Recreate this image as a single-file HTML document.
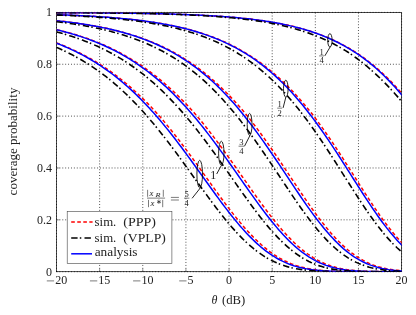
<!DOCTYPE html>
<html><head><meta charset="utf-8"><title>coverage probability</title>
<style>
html,body{margin:0;padding:0;background:#fff;}
body{width:416px;height:315px;position:relative;overflow:hidden;}
svg{position:absolute;left:0;top:0;}
#t{filter:grayscale(1);}
#t text{font-family:"Liberation Serif",serif;fill:#222;}
</style></head><body>
<svg width="416" height="315" viewBox="0 0 416 315">
<defs><clipPath id="c"><rect x="56.5" y="12.4" width="345.10" height="259.30"/></clipPath></defs>
<g stroke="#111" stroke-width="0.75" stroke-dasharray="0.95 1.95" fill="none"><line x1="56.50" y1="271.7" x2="56.50" y2="12.4"/><line x1="99.64" y1="271.7" x2="99.64" y2="12.4"/><line x1="142.78" y1="271.7" x2="142.78" y2="12.4"/><line x1="185.91" y1="271.7" x2="185.91" y2="12.4"/><line x1="229.05" y1="271.7" x2="229.05" y2="12.4"/><line x1="272.19" y1="271.7" x2="272.19" y2="12.4"/><line x1="315.33" y1="271.7" x2="315.33" y2="12.4"/><line x1="358.46" y1="271.7" x2="358.46" y2="12.4"/><line x1="401.60" y1="271.7" x2="401.60" y2="12.4"/><line x1="56.5" y1="271.70" x2="401.6" y2="271.70"/><line x1="56.5" y1="219.84" x2="401.6" y2="219.84"/><line x1="56.5" y1="167.98" x2="401.6" y2="167.98"/><line x1="56.5" y1="116.12" x2="401.6" y2="116.12"/><line x1="56.5" y1="64.26" x2="401.6" y2="64.26"/><line x1="56.5" y1="12.40" x2="401.6" y2="12.40"/></g>
<rect x="56.5" y="12.4" width="345.10" height="259.30" fill="none" stroke="#000" stroke-width="0.7"/>
<g stroke="#333" stroke-width="0.5" fill="none"><line x1="99.64" y1="271.7" x2="99.64" y2="268.7"/><line x1="142.78" y1="271.7" x2="142.78" y2="268.7"/><line x1="185.91" y1="271.7" x2="185.91" y2="268.7"/><line x1="229.05" y1="271.7" x2="229.05" y2="268.7"/><line x1="272.19" y1="271.7" x2="272.19" y2="268.7"/><line x1="315.33" y1="271.7" x2="315.33" y2="268.7"/><line x1="358.46" y1="271.7" x2="358.46" y2="268.7"/><line x1="56.5" y1="219.84" x2="59.5" y2="219.84"/><line x1="56.5" y1="167.98" x2="59.5" y2="167.98"/><line x1="56.5" y1="116.12" x2="59.5" y2="116.12"/><line x1="56.5" y1="64.26" x2="59.5" y2="64.26"/></g>
<g clip-path="url(#c)" fill="none" stroke-width="1.5">
<g stroke="#ff0000" stroke-dasharray="3.62 2.42"><path d="M56.50,12.62 L58.66,12.63 L60.81,12.63 L62.97,12.64 L65.13,12.65 L67.28,12.66 L69.44,12.67 L71.60,12.68 L73.75,12.70 L75.91,12.71 L78.07,12.72 L80.23,12.73 L82.38,12.74 L84.54,12.76 L86.70,12.77 L88.85,12.79 L91.01,12.80 L93.17,12.82 L95.32,12.83 L97.48,12.85 L99.64,12.87 L101.79,12.88 L103.95,12.90 L106.11,12.92 L108.27,12.94 L110.42,12.97 L112.58,12.99 L114.74,13.01 L116.89,13.03 L119.05,13.06 L121.21,13.08 L123.36,13.11 L125.52,13.14 L127.68,13.17 L129.83,13.20 L131.99,13.23 L134.15,13.26 L136.30,13.29 L138.46,13.33 L140.62,13.36 L142.78,13.40 L144.93,13.44 L147.09,13.48 L149.25,13.52 L151.40,13.57 L153.56,13.61 L155.72,13.66 L157.87,13.71 L160.03,13.76 L162.19,13.81 L164.34,13.87 L166.50,13.93 L168.66,13.98 L170.81,14.05 L172.97,14.11 L175.13,14.18 L177.28,14.25 L179.44,14.32 L181.60,14.39 L183.76,14.47 L185.91,14.55 L188.07,14.63 L190.23,14.72 L192.38,14.81 L194.54,14.90 L196.70,15.00 L198.85,15.10 L201.01,15.21 L203.17,15.31 L205.32,15.43 L207.48,15.54 L209.64,15.67 L211.80,15.79 L213.95,15.92 L216.11,16.06 L218.27,16.20 L220.42,16.35 L222.58,16.50 L224.74,16.66 L226.89,16.82 L229.05,16.99 L231.21,17.17 L233.36,17.36 L235.52,17.55 L237.68,17.75 L239.83,17.95 L241.99,18.17 L244.15,18.39 L246.31,18.62 L248.46,18.86 L250.62,19.10 L252.78,19.36 L254.93,19.63 L257.09,19.91 L259.25,20.19 L261.40,20.49 L263.56,20.80 L265.72,21.12 L267.87,21.46 L270.03,21.80 L272.19,22.16 L274.34,22.53 L276.50,22.92 L278.66,23.32 L280.82,23.74 L282.97,24.17 L285.13,24.61 L287.29,25.08 L289.44,25.56 L291.60,26.05 L293.76,26.57 L295.91,27.10 L298.07,27.66 L300.23,28.23 L302.38,28.83 L304.54,29.44 L306.70,30.08 L308.85,30.74 L311.01,31.43 L313.17,32.14 L315.33,32.87 L317.48,33.63 L319.64,34.42 L321.80,35.23 L323.95,36.08 L326.11,36.95 L328.27,37.85 L330.42,38.78 L332.58,39.75 L334.74,40.75 L336.89,41.78 L339.05,42.85 L341.21,43.95 L343.36,45.09 L345.52,46.26 L347.68,47.48 L349.84,48.74 L351.99,50.03 L354.15,51.37 L356.31,52.75 L358.46,54.17 L360.62,55.64 L362.78,57.15 L364.93,58.71 L367.09,60.32 L369.25,61.98 L371.40,63.68 L373.56,65.44 L375.72,67.24 L377.87,69.10 L380.03,71.01 L382.19,72.98 L384.35,75.00 L386.50,77.07 L388.66,79.20 L390.82,81.38 L392.97,83.62 L395.13,85.92 L397.29,88.28 L399.44,90.69 L401.60,93.16 L403.76,95.69 L405.91,98.27"/><path d="M56.50,14.71 L58.66,14.78 L60.81,14.86 L62.97,14.93 L65.13,15.01 L67.28,15.10 L69.44,15.18 L71.60,15.27 L73.75,15.37 L75.91,15.46 L78.07,15.56 L80.23,15.66 L82.38,15.77 L84.54,15.88 L86.70,15.99 L88.85,16.11 L91.01,16.23 L93.17,16.36 L95.32,16.49 L97.48,16.62 L99.64,16.76 L101.79,16.90 L103.95,17.05 L106.11,17.20 L108.27,17.36 L110.42,17.53 L112.58,17.70 L114.74,17.87 L116.89,18.05 L119.05,18.24 L121.21,18.44 L123.36,18.64 L125.52,18.85 L127.68,19.06 L129.83,19.29 L131.99,19.52 L134.15,19.76 L136.30,20.00 L138.46,20.26 L140.62,20.52 L142.78,20.80 L144.93,21.08 L147.09,21.37 L149.25,21.67 L151.40,21.99 L153.56,22.31 L155.72,22.65 L157.87,22.99 L160.03,23.35 L162.19,23.72 L164.34,24.10 L166.50,24.50 L168.66,24.91 L170.81,25.33 L172.97,25.77 L175.13,26.22 L177.28,26.69 L179.44,27.18 L181.60,27.68 L183.76,28.20 L185.91,28.73 L188.07,29.28 L190.23,29.85 L192.38,30.44 L194.54,31.05 L196.70,31.68 L198.85,32.34 L201.01,33.01 L203.17,33.70 L205.32,34.42 L207.48,35.16 L209.64,35.93 L211.80,36.72 L213.95,37.53 L216.11,38.38 L218.27,39.24 L220.42,40.14 L222.58,41.07 L224.74,42.02 L226.89,43.00 L229.05,44.02 L231.21,45.07 L233.36,46.15 L235.52,47.26 L237.68,48.40 L239.83,49.58 L241.99,50.80 L244.15,52.05 L246.31,53.34 L248.46,54.67 L250.62,56.04 L252.78,57.44 L254.93,58.89 L257.09,60.38 L259.25,61.91 L261.40,63.48 L263.56,65.10 L265.72,66.75 L267.87,68.46 L270.03,70.21 L272.19,72.00 L274.34,73.84 L276.50,75.73 L278.66,77.67 L280.82,79.65 L282.97,81.69 L285.13,83.77 L287.29,85.90 L289.44,88.08 L291.60,90.30 L293.76,92.58 L295.91,94.91 L298.07,97.29 L300.23,99.71 L302.38,102.19 L304.54,104.72 L306.70,107.29 L308.85,109.91 L311.01,112.58 L313.17,115.37 L315.33,118.22 L317.48,121.12 L319.64,124.07 L321.80,127.07 L323.95,130.11 L326.11,133.20 L328.27,136.32 L330.42,139.49 L332.58,142.69 L334.74,145.93 L336.89,149.19 L339.05,152.49 L341.21,155.81 L343.36,159.16 L345.52,162.53 L347.68,165.91 L349.84,169.30 L351.99,172.70 L354.15,176.11 L356.31,179.51 L358.46,182.91 L360.62,186.30 L362.78,189.67 L364.93,193.03 L367.09,196.36 L369.25,199.67 L371.40,202.94 L373.56,206.17 L375.72,209.35 L377.87,212.49 L380.03,215.57 L382.19,218.59 L384.35,221.56 L386.50,224.45 L388.66,227.27 L390.82,230.01 L392.97,232.67 L395.13,235.25 L397.29,237.74 L399.44,240.14 L401.60,242.44 L403.76,244.65 L405.91,246.77"/><path d="M56.50,20.66 L58.66,20.89 L60.81,21.13 L62.97,21.37 L65.13,21.62 L67.28,21.88 L69.44,22.14 L71.60,22.42 L73.75,22.70 L75.91,22.99 L78.07,23.30 L80.23,23.61 L82.38,23.93 L84.54,24.26 L86.70,24.60 L88.85,24.96 L91.01,25.32 L93.17,25.70 L95.32,26.09 L97.48,26.49 L99.64,26.90 L101.79,27.33 L103.95,27.77 L106.11,28.22 L108.27,28.69 L110.42,29.17 L112.58,29.67 L114.74,30.18 L116.89,30.71 L119.05,31.26 L121.21,31.82 L123.36,32.40 L125.52,33.00 L127.68,33.62 L129.83,34.26 L131.99,34.92 L134.15,35.60 L136.30,36.29 L138.46,37.01 L140.62,37.76 L142.78,38.52 L144.93,39.31 L147.09,40.12 L149.25,40.96 L151.40,41.83 L153.56,42.71 L155.72,43.63 L157.87,44.57 L160.03,45.54 L162.19,46.54 L164.34,47.57 L166.50,48.63 L168.66,49.72 L170.81,50.84 L172.97,51.99 L175.13,53.18 L177.28,54.40 L179.44,55.66 L181.60,56.94 L183.76,58.27 L185.91,59.63 L188.07,61.03 L190.23,62.46 L192.38,63.94 L194.54,65.45 L196.70,67.01 L198.85,68.60 L201.01,70.23 L203.17,71.91 L205.32,73.62 L207.48,75.38 L209.64,77.19 L211.80,79.03 L213.95,80.92 L216.11,82.85 L218.27,84.83 L220.42,86.85 L222.58,88.92 L224.74,91.03 L226.89,93.19 L229.05,95.39 L231.21,97.64 L233.36,99.93 L235.52,102.26 L237.68,104.64 L239.83,107.07 L241.99,109.54 L244.15,112.05 L246.31,114.68 L248.46,117.38 L250.62,120.12 L252.78,122.90 L254.93,125.73 L257.09,128.61 L259.25,131.52 L261.40,134.47 L263.56,137.46 L265.72,140.49 L267.87,143.55 L270.03,146.64 L272.19,149.76 L274.34,152.90 L276.50,156.07 L278.66,159.26 L280.82,162.47 L282.97,165.70 L285.13,168.93 L287.29,172.17 L289.44,175.42 L291.60,178.66 L293.76,181.91 L295.91,185.14 L298.07,188.37 L300.23,191.57 L302.38,194.76 L304.54,197.93 L306.70,201.06 L308.85,204.16 L311.01,207.22 L313.17,210.24 L315.33,213.22 L317.48,216.14 L319.64,219.01 L321.80,221.82 L323.95,224.57 L326.11,227.25 L328.27,229.86 L330.42,232.39 L332.58,234.85 L334.74,237.23 L336.89,239.53 L339.05,241.74 L341.21,243.86 L343.36,245.90 L345.52,247.85 L347.68,249.71 L349.84,251.47 L351.99,253.15 L354.15,254.73 L356.31,256.23 L358.46,257.63 L360.62,258.95 L362.78,260.18 L364.93,261.32 L367.09,262.38 L369.25,263.37 L371.40,264.27 L373.56,265.10 L375.72,265.86 L377.87,266.56 L380.03,267.18 L382.19,267.75 L384.35,268.26 L386.50,268.72 L388.66,269.13 L390.82,269.49 L392.97,269.81 L395.13,270.09 L397.29,270.34 L399.44,270.55 L401.60,270.74 L403.76,270.90 L405.91,271.03"/><path d="M56.50,29.63 L58.66,30.15 L60.81,30.67 L62.97,31.21 L65.13,31.77 L67.28,32.34 L69.44,32.93 L71.60,33.54 L73.75,34.17 L75.91,34.81 L78.07,35.47 L80.23,36.15 L82.38,36.85 L84.54,37.57 L86.70,38.32 L88.85,39.08 L91.01,39.86 L93.17,40.67 L95.32,41.50 L97.48,42.35 L99.64,43.22 L101.79,44.12 L103.95,45.05 L106.11,46.00 L108.27,46.97 L110.42,47.98 L112.58,49.01 L114.74,50.06 L116.89,51.15 L119.05,52.26 L121.21,53.41 L123.36,54.58 L125.52,55.79 L127.68,57.02 L129.83,58.29 L131.99,59.59 L134.15,60.92 L136.30,62.28 L138.46,63.68 L140.62,65.12 L142.78,66.59 L144.93,68.09 L147.09,69.63 L149.25,71.21 L151.40,72.82 L153.56,74.47 L155.72,76.15 L157.87,77.88 L160.03,79.64 L162.19,81.45 L164.34,83.29 L166.50,85.17 L168.66,87.09 L170.81,89.04 L172.97,91.04 L175.13,93.08 L177.28,95.16 L179.44,97.27 L181.60,99.43 L183.76,101.63 L185.91,103.86 L188.07,106.14 L190.23,108.45 L192.38,110.80 L194.54,113.22 L196.70,115.74 L198.85,118.31 L201.01,120.91 L203.17,123.55 L205.32,126.24 L207.48,128.96 L209.64,131.71 L211.80,134.50 L213.95,137.33 L216.11,140.19 L218.27,143.08 L220.42,145.99 L222.58,148.94 L224.74,151.91 L226.89,154.90 L229.05,157.91 L231.21,160.95 L233.36,163.99 L235.52,167.05 L237.68,170.12 L239.83,173.20 L241.99,176.28 L244.15,179.36 L246.31,182.44 L248.46,185.51 L250.62,188.57 L252.78,191.63 L254.93,194.66 L257.09,197.67 L259.25,200.66 L261.40,203.62 L263.56,206.55 L265.72,209.45 L267.87,212.30 L270.03,215.11 L272.19,217.88 L274.34,220.59 L276.50,223.25 L278.66,225.85 L280.82,228.40 L282.97,230.87 L285.13,233.29 L287.29,235.63 L289.44,237.89 L291.60,240.09 L293.76,242.20 L295.91,244.24 L298.07,246.20 L300.23,248.07 L302.38,249.86 L304.54,251.57 L306.70,253.20 L308.85,254.74 L311.01,256.19 L313.17,257.57 L315.33,258.86 L317.48,260.07 L319.64,261.20 L321.80,262.25 L323.95,263.22 L326.11,264.12 L328.27,264.96 L330.42,265.72 L332.58,266.42 L334.74,267.05 L336.89,267.63 L339.05,268.15 L341.21,268.61 L343.36,269.03 L345.52,269.40 L347.68,269.73 L349.84,270.02 L351.99,270.28 L354.15,270.50 L356.31,270.70 L358.46,270.86 L360.62,271.01 L362.78,271.13 L364.93,271.23 L367.09,271.32 L369.25,271.39 L371.40,271.45 L373.56,271.50 L375.72,271.54 L377.87,271.58 L380.03,271.61 L382.19,271.63 L384.35,271.64 L386.50,271.66 L388.66,271.67 L390.82,271.68 L392.97,271.68 L395.13,271.69 L397.29,271.69 L399.44,271.69 L401.60,271.70 L403.76,271.70 L405.91,271.70"/><path d="M56.50,42.86 L58.66,43.68 L60.81,44.52 L62.97,45.38 L65.13,46.27 L67.28,47.18 L69.44,48.12 L71.60,49.08 L73.75,50.07 L75.91,51.09 L78.07,52.13 L80.23,53.20 L82.38,54.29 L84.54,55.42 L86.70,56.58 L88.85,57.76 L91.01,58.98 L93.17,60.23 L95.32,61.51 L97.48,62.82 L99.64,64.16 L101.79,65.54 L103.95,66.95 L106.11,68.39 L108.27,69.87 L110.42,71.39 L112.58,72.94 L114.74,74.53 L116.89,76.15 L119.05,77.81 L121.21,79.51 L123.36,81.25 L125.52,83.02 L127.68,84.83 L129.83,86.68 L131.99,88.57 L134.15,90.50 L136.30,92.47 L138.46,94.48 L140.62,96.52 L142.78,98.61 L144.93,100.73 L147.09,102.89 L149.25,105.10 L151.40,107.34 L153.56,109.61 L155.72,111.93 L157.87,114.34 L160.03,116.81 L162.19,119.33 L164.34,121.88 L166.50,124.48 L168.66,127.11 L170.81,129.77 L172.97,132.48 L175.13,135.21 L177.28,137.98 L179.44,140.79 L181.60,143.62 L183.76,146.48 L185.91,149.36 L188.07,152.27 L190.23,155.20 L192.38,158.15 L194.54,161.12 L196.70,164.10 L198.85,167.10 L201.01,170.10 L203.17,173.11 L205.32,176.13 L207.48,179.14 L209.64,182.16 L211.80,185.16 L213.95,188.16 L216.11,191.15 L218.27,194.12 L220.42,197.06 L222.58,199.99 L224.74,202.89 L226.89,205.76 L229.05,208.59 L231.21,211.39 L233.36,214.15 L235.52,216.86 L237.68,219.52 L239.83,222.13 L241.99,224.69 L244.15,227.19 L246.31,229.63 L248.46,232.00 L250.62,234.31 L252.78,236.55 L254.93,238.72 L257.09,240.82 L259.25,242.84 L261.40,244.79 L263.56,246.66 L265.72,248.45 L267.87,250.16 L270.03,251.80 L272.19,253.35 L274.34,254.82 L276.50,256.22 L278.66,257.54 L280.82,258.78 L282.97,259.94 L285.13,261.03 L287.29,262.05 L289.44,262.99 L291.60,263.87 L293.76,264.68 L295.91,265.43 L298.07,266.11 L300.23,266.74 L302.38,267.32 L304.54,267.84 L306.70,268.31 L308.85,268.73 L311.01,269.12 L313.17,269.46 L315.33,269.76 L317.48,270.03 L319.64,270.27 L321.80,270.48 L323.95,270.66 L326.11,270.82 L328.27,270.96 L330.42,271.08 L332.58,271.19 L334.74,271.27 L336.89,271.35 L339.05,271.41 L341.21,271.46 L343.36,271.51 L345.52,271.55 L347.68,271.58 L349.84,271.60 L351.99,271.62 L354.15,271.64 L356.31,271.65 L358.46,271.66 L360.62,271.67 L362.78,271.68 L364.93,271.68 L367.09,271.69 L369.25,271.69 L371.40,271.69 L373.56,271.69 L375.72,271.70 L377.87,271.70 L380.03,271.70 L382.19,271.70 L384.35,271.70 L386.50,271.70 L388.66,271.70 L390.82,271.70 L392.97,271.70 L395.13,271.70 L397.29,271.70 L399.44,271.70 L401.60,271.70 L403.76,271.70 L405.91,271.70"/></g>
<g stroke="#0000ff"><path d="M56.50,12.62 L58.66,12.63 L60.81,12.63 L62.97,12.64 L65.13,12.65 L67.28,12.66 L69.44,12.67 L71.60,12.68 L73.75,12.70 L75.91,12.71 L78.07,12.72 L80.23,12.73 L82.38,12.74 L84.54,12.76 L86.70,12.77 L88.85,12.79 L91.01,12.80 L93.17,12.82 L95.32,12.83 L97.48,12.85 L99.64,12.87 L101.79,12.89 L103.95,12.90 L106.11,12.92 L108.27,12.94 L110.42,12.97 L112.58,12.99 L114.74,13.01 L116.89,13.03 L119.05,13.06 L121.21,13.08 L123.36,13.11 L125.52,13.14 L127.68,13.17 L129.83,13.20 L131.99,13.23 L134.15,13.26 L136.30,13.29 L138.46,13.33 L140.62,13.36 L142.78,13.40 L144.93,13.44 L147.09,13.48 L149.25,13.52 L151.40,13.57 L153.56,13.61 L155.72,13.66 L157.87,13.71 L160.03,13.76 L162.19,13.81 L164.34,13.87 L166.50,13.93 L168.66,13.99 L170.81,14.05 L172.97,14.11 L175.13,14.18 L177.28,14.25 L179.44,14.32 L181.60,14.39 L183.76,14.47 L185.91,14.55 L188.07,14.63 L190.23,14.72 L192.38,14.81 L194.54,14.90 L196.70,15.00 L198.85,15.10 L201.01,15.21 L203.17,15.32 L205.32,15.43 L207.48,15.55 L209.64,15.67 L211.80,15.80 L213.95,15.93 L216.11,16.06 L218.27,16.21 L220.42,16.35 L222.58,16.51 L224.74,16.66 L226.89,16.83 L229.05,17.00 L231.21,17.18 L233.36,17.36 L235.52,17.55 L237.68,17.75 L239.83,17.96 L241.99,18.18 L244.15,18.40 L246.31,18.63 L248.46,18.87 L250.62,19.12 L252.78,19.38 L254.93,19.64 L257.09,19.92 L259.25,20.21 L261.40,20.51 L263.56,20.82 L265.72,21.15 L267.87,21.48 L270.03,21.83 L272.19,22.19 L274.34,22.56 L276.50,22.95 L278.66,23.36 L280.82,23.77 L282.97,24.21 L285.13,24.66 L287.29,25.12 L289.44,25.61 L291.60,26.11 L293.76,26.63 L295.91,27.17 L298.07,27.72 L300.23,28.30 L302.38,28.90 L304.54,29.53 L306.70,30.17 L308.85,30.84 L311.01,31.53 L313.17,32.25 L315.33,32.99 L317.48,33.76 L319.64,34.56 L321.80,35.38 L323.95,36.23 L326.11,37.12 L328.27,38.03 L330.42,38.98 L332.58,39.96 L334.74,40.97 L336.89,42.02 L339.05,43.11 L341.21,44.23 L343.36,45.39 L345.52,46.58 L347.68,47.82 L349.84,49.10 L351.99,50.42 L354.15,51.79 L356.31,53.20 L358.46,54.65 L360.62,56.15 L362.78,57.70 L364.93,59.30 L367.09,60.94 L369.25,62.64 L371.40,64.39 L373.56,66.19 L375.72,68.05 L377.87,69.96 L380.03,71.92 L382.19,73.94 L384.35,76.02 L386.50,78.16 L388.66,80.36 L390.82,82.61 L392.97,84.93 L395.13,87.30 L397.29,89.74 L399.44,92.23 L401.60,94.79 L403.76,97.41 L405.91,100.09"/><path d="M56.50,14.71 L58.66,14.78 L60.81,14.86 L62.97,14.94 L65.13,15.02 L67.28,15.10 L69.44,15.19 L71.60,15.28 L73.75,15.37 L75.91,15.47 L78.07,15.56 L80.23,15.67 L82.38,15.77 L84.54,15.88 L86.70,16.00 L88.85,16.11 L91.01,16.24 L93.17,16.36 L95.32,16.49 L97.48,16.63 L99.64,16.77 L101.79,16.91 L103.95,17.06 L106.11,17.21 L108.27,17.37 L110.42,17.54 L112.58,17.71 L114.74,17.88 L116.89,18.07 L119.05,18.26 L121.21,18.45 L123.36,18.65 L125.52,18.86 L127.68,19.08 L129.83,19.30 L131.99,19.54 L134.15,19.78 L136.30,20.02 L138.46,20.28 L140.62,20.55 L142.78,20.82 L144.93,21.11 L147.09,21.40 L149.25,21.71 L151.40,22.02 L153.56,22.35 L155.72,22.68 L157.87,23.03 L160.03,23.39 L162.19,23.77 L164.34,24.15 L166.50,24.55 L168.66,24.97 L170.81,25.40 L172.97,25.84 L175.13,26.30 L177.28,26.77 L179.44,27.26 L181.60,27.76 L183.76,28.29 L185.91,28.83 L188.07,29.39 L190.23,29.97 L192.38,30.57 L194.54,31.18 L196.70,31.82 L198.85,32.48 L201.01,33.17 L203.17,33.87 L205.32,34.60 L207.48,35.35 L209.64,36.13 L211.80,36.94 L213.95,37.77 L216.11,38.63 L218.27,39.51 L220.42,40.43 L222.58,41.37 L224.74,42.34 L226.89,43.35 L229.05,44.39 L231.21,45.46 L233.36,46.56 L235.52,47.70 L237.68,48.88 L239.83,50.09 L241.99,51.34 L244.15,52.63 L246.31,53.95 L248.46,55.32 L250.62,56.73 L252.78,58.18 L254.93,59.67 L257.09,61.21 L259.25,62.79 L261.40,64.42 L263.56,66.09 L265.72,67.81 L267.87,69.57 L270.03,71.39 L272.19,73.26 L274.34,75.17 L276.50,77.14 L278.66,79.15 L280.82,81.22 L282.97,83.34 L285.13,85.52 L287.29,87.74 L289.44,90.02 L291.60,92.36 L293.76,94.75 L295.91,97.19 L298.07,99.68 L300.23,102.23 L302.38,104.83 L304.54,107.49 L306.70,110.20 L308.85,112.95 L311.01,115.76 L313.17,118.62 L315.33,121.53 L317.48,124.49 L319.64,127.49 L321.80,130.54 L323.95,133.63 L326.11,136.76 L328.27,139.93 L330.42,143.14 L332.58,146.38 L334.74,149.65 L336.89,152.95 L339.05,156.28 L341.21,159.63 L343.36,163.00 L345.52,166.38 L347.68,169.78 L349.84,173.18 L351.99,176.58 L354.15,179.99 L356.31,183.39 L358.46,186.77 L360.62,190.15 L362.78,193.50 L364.93,196.83 L367.09,200.13 L369.25,203.39 L371.40,206.61 L373.56,209.79 L375.72,212.92 L377.87,216.00 L380.03,219.01 L382.19,221.96 L384.35,224.85 L386.50,227.66 L388.66,230.39 L390.82,233.04 L392.97,235.60 L395.13,238.08 L397.29,240.47 L399.44,242.76 L401.60,244.95 L403.76,247.05 L405.91,249.05"/><path d="M56.50,20.69 L58.66,20.92 L60.81,21.15 L62.97,21.40 L65.13,21.65 L67.28,21.91 L69.44,22.18 L71.60,22.46 L73.75,22.74 L75.91,23.04 L78.07,23.34 L80.23,23.66 L82.38,23.98 L84.54,24.32 L86.70,24.66 L88.85,25.02 L91.01,25.39 L93.17,25.77 L95.32,26.16 L97.48,26.56 L99.64,26.98 L101.79,27.41 L103.95,27.86 L106.11,28.32 L108.27,28.79 L110.42,29.28 L112.58,29.79 L114.74,30.31 L116.89,30.85 L119.05,31.40 L121.21,31.97 L123.36,32.56 L125.52,33.17 L127.68,33.80 L129.83,34.45 L131.99,35.12 L134.15,35.81 L136.30,36.53 L138.46,37.26 L140.62,38.02 L142.78,38.80 L144.93,39.61 L147.09,40.44 L149.25,41.29 L151.40,42.18 L153.56,43.09 L155.72,44.03 L157.87,45.00 L160.03,45.99 L162.19,47.02 L164.34,48.08 L166.50,49.17 L168.66,50.29 L170.81,51.45 L172.97,52.64 L175.13,53.86 L177.28,55.12 L179.44,56.42 L181.60,57.75 L183.76,59.13 L185.91,60.54 L188.07,61.99 L190.23,63.48 L192.38,65.02 L194.54,66.59 L196.70,68.21 L198.85,69.87 L201.01,71.58 L203.17,73.33 L205.32,75.13 L207.48,76.97 L209.64,78.86 L211.80,80.80 L213.95,82.78 L216.11,84.81 L218.27,86.90 L220.42,89.03 L222.58,91.20 L224.74,93.43 L226.89,95.71 L229.05,98.04 L231.21,100.42 L233.36,102.84 L235.52,105.32 L237.68,107.84 L239.83,110.41 L241.99,113.03 L244.15,115.70 L246.31,118.41 L248.46,121.17 L250.62,123.98 L252.78,126.82 L254.93,129.71 L257.09,132.64 L259.25,135.60 L261.40,138.61 L263.56,141.65 L265.72,144.72 L267.87,147.82 L270.03,150.95 L272.19,154.10 L274.34,157.28 L276.50,160.48 L278.66,163.70 L280.82,166.92 L282.97,170.16 L285.13,173.40 L287.29,176.65 L289.44,179.90 L291.60,183.14 L293.76,186.37 L295.91,189.59 L298.07,192.79 L300.23,195.97 L302.38,199.12 L304.54,202.24 L306.70,205.33 L308.85,208.38 L311.01,211.38 L313.17,214.34 L315.33,217.24 L317.48,220.08 L319.64,222.87 L321.80,225.59 L323.95,228.25 L326.11,230.83 L328.27,233.33 L330.42,235.76 L332.58,238.11 L334.74,240.38 L336.89,242.56 L339.05,244.65 L341.21,246.65 L343.36,248.57 L345.52,250.39 L347.68,252.12 L349.84,253.76 L351.99,255.31 L354.15,256.77 L356.31,258.14 L358.46,259.43 L360.62,260.62 L362.78,261.74 L364.93,262.77 L367.09,263.72 L369.25,264.60 L371.40,265.40 L373.56,266.13 L375.72,266.80 L377.87,267.41 L380.03,267.95 L382.19,268.44 L384.35,268.88 L386.50,269.27 L388.66,269.62 L390.82,269.92 L392.97,270.19 L395.13,270.42 L397.29,270.63 L399.44,270.80 L401.60,270.95 L403.76,271.08 L405.91,271.19"/><path d="M56.50,29.76 L58.66,30.28 L60.81,30.82 L62.97,31.37 L65.13,31.93 L67.28,32.52 L69.44,33.12 L71.60,33.73 L73.75,34.37 L75.91,35.03 L78.07,35.70 L80.23,36.40 L82.38,37.11 L84.54,37.85 L86.70,38.61 L88.85,39.38 L91.01,40.19 L93.17,41.01 L95.32,41.86 L97.48,42.73 L99.64,43.63 L101.79,44.56 L103.95,45.51 L106.11,46.48 L108.27,47.49 L110.42,48.52 L112.58,49.58 L114.74,50.67 L116.89,51.79 L119.05,52.94 L121.21,54.12 L123.36,55.34 L125.52,56.59 L127.68,57.87 L129.83,59.18 L131.99,60.53 L134.15,61.91 L136.30,63.33 L138.46,64.79 L140.62,66.28 L142.78,67.82 L144.93,69.39 L147.09,71.00 L149.25,72.64 L151.40,74.33 L153.56,76.06 L155.72,77.83 L157.87,79.64 L160.03,81.50 L162.19,83.39 L164.34,85.33 L166.50,87.31 L168.66,89.34 L170.81,91.40 L172.97,93.51 L175.13,95.67 L177.28,97.87 L179.44,100.11 L181.60,102.40 L183.76,104.73 L185.91,107.10 L188.07,109.52 L190.23,111.98 L192.38,114.48 L194.54,117.02 L196.70,119.60 L198.85,122.23 L201.01,124.89 L203.17,127.59 L205.32,130.33 L207.48,133.10 L209.64,135.91 L211.80,138.75 L213.95,141.63 L216.11,144.53 L218.27,147.46 L220.42,150.42 L222.58,153.40 L224.74,156.41 L226.89,159.43 L229.05,162.47 L231.21,165.52 L233.36,168.59 L235.52,171.66 L237.68,174.74 L239.83,177.82 L241.99,180.90 L244.15,183.98 L246.31,187.04 L248.46,190.10 L250.62,193.14 L252.78,196.17 L254.93,199.17 L257.09,202.15 L259.25,205.09 L261.40,208.00 L263.56,210.88 L265.72,213.71 L267.87,216.50 L270.03,219.24 L272.19,221.93 L274.34,224.56 L276.50,227.13 L278.66,229.64 L280.82,232.09 L282.97,234.46 L285.13,236.77 L287.29,239.00 L289.44,241.16 L291.60,243.23 L293.76,245.23 L295.91,247.15 L298.07,248.98 L300.23,250.73 L302.38,252.40 L304.54,253.98 L306.70,255.48 L308.85,256.89 L311.01,258.22 L313.17,259.47 L315.33,260.64 L317.48,261.73 L319.64,262.74 L321.80,263.68 L323.95,264.55 L326.11,265.35 L328.27,266.07 L330.42,266.74 L332.58,267.34 L334.74,267.89 L336.89,268.39 L339.05,268.83 L341.21,269.22 L343.36,269.57 L345.52,269.88 L347.68,270.16 L349.84,270.39 L351.99,270.60 L354.15,270.78 L356.31,270.94 L358.46,271.07 L360.62,271.18 L362.78,271.28 L364.93,271.36 L367.09,271.42 L369.25,271.48 L371.40,271.53 L373.56,271.56 L375.72,271.59 L377.87,271.62 L380.03,271.64 L382.19,271.65 L384.35,271.66 L386.50,271.67 L388.66,271.68 L390.82,271.68 L392.97,271.69 L395.13,271.69 L397.29,271.69 L399.44,271.70 L401.60,271.70 L403.76,271.70 L405.91,271.70"/><path d="M56.50,43.20 L58.66,44.03 L60.81,44.90 L62.97,45.78 L65.13,46.69 L67.28,47.63 L69.44,48.59 L71.60,49.57 L73.75,50.59 L75.91,51.63 L78.07,52.71 L80.23,53.81 L82.38,54.94 L84.54,56.10 L86.70,57.29 L88.85,58.52 L91.01,59.77 L93.17,61.07 L95.32,62.39 L97.48,63.75 L99.64,65.14 L101.79,66.57 L103.95,68.04 L106.11,69.54 L108.27,71.08 L110.42,72.66 L112.58,74.27 L114.74,75.93 L116.89,77.63 L119.05,79.36 L121.21,81.14 L123.36,82.95 L125.52,84.81 L127.68,86.71 L129.83,88.65 L131.99,90.64 L134.15,92.67 L136.30,94.73 L138.46,96.85 L140.62,99.00 L142.78,101.20 L144.93,103.44 L147.09,105.72 L149.25,108.05 L151.40,110.41 L153.56,112.82 L155.72,115.27 L157.87,117.76 L160.03,120.29 L162.19,122.86 L164.34,125.47 L166.50,128.12 L168.66,130.80 L170.81,133.51 L172.97,136.26 L175.13,139.04 L177.28,141.86 L179.44,144.70 L181.60,147.57 L183.76,150.46 L185.91,153.38 L188.07,156.32 L190.23,159.28 L192.38,162.25 L194.54,165.24 L196.70,168.24 L198.85,171.25 L201.01,174.26 L203.17,177.28 L205.32,180.29 L207.48,183.30 L209.64,186.30 L211.80,189.30 L213.95,192.28 L216.11,195.24 L218.27,198.18 L220.42,201.10 L222.58,203.98 L224.74,206.84 L226.89,209.66 L229.05,212.44 L231.21,215.18 L233.36,217.88 L235.52,220.52 L237.68,223.11 L239.83,225.65 L241.99,228.12 L244.15,230.54 L246.31,232.89 L248.46,235.17 L250.62,237.39 L252.78,239.53 L254.93,241.60 L257.09,243.59 L259.25,245.51 L261.40,247.35 L263.56,249.11 L265.72,250.79 L267.87,252.40 L270.03,253.92 L272.19,255.36 L274.34,256.73 L276.50,258.02 L278.66,259.23 L280.82,260.36 L282.97,261.42 L285.13,262.41 L287.29,263.33 L289.44,264.18 L291.60,264.97 L293.76,265.70 L295.91,266.36 L298.07,266.97 L300.23,267.52 L302.38,268.02 L304.54,268.48 L306.70,268.88 L308.85,269.25 L311.01,269.58 L313.17,269.87 L315.33,270.13 L317.48,270.35 L319.64,270.55 L321.80,270.73 L323.95,270.88 L326.11,271.01 L328.27,271.12 L330.42,271.22 L332.58,271.30 L334.74,271.37 L336.89,271.43 L339.05,271.48 L341.21,271.52 L343.36,271.56 L345.52,271.59 L347.68,271.61 L349.84,271.63 L351.99,271.64 L354.15,271.66 L356.31,271.67 L358.46,271.67 L360.62,271.68 L362.78,271.68 L364.93,271.69 L367.09,271.69 L369.25,271.69 L371.40,271.70 L373.56,271.70 L375.72,271.70 L377.87,271.70 L380.03,271.70 L382.19,271.70 L384.35,271.70 L386.50,271.70 L388.66,271.70 L390.82,271.70 L392.97,271.70 L395.13,271.70 L397.29,271.70 L399.44,271.70 L401.60,271.70 L403.76,271.70 L405.91,271.70"/></g>
<g stroke="#000" stroke-dasharray="6.4 2.2 1.5 3.2" stroke-width="1.6"><path d="M56.50,12.65 L58.66,12.66 L60.81,12.66 L62.97,12.68 L65.13,12.69 L67.28,12.70 L69.44,12.71 L71.60,12.72 L73.75,12.73 L75.91,12.75 L78.07,12.76 L80.23,12.77 L82.38,12.79 L84.54,12.80 L86.70,12.82 L88.85,12.84 L91.01,12.85 L93.17,12.87 L95.32,12.89 L97.48,12.91 L99.64,12.93 L101.79,12.95 L103.95,12.97 L106.11,12.99 L108.27,13.01 L110.42,13.04 L112.58,13.06 L114.74,13.09 L116.89,13.12 L119.05,13.14 L121.21,13.17 L123.36,13.20 L125.52,13.23 L127.68,13.27 L129.83,13.30 L131.99,13.34 L134.15,13.37 L136.30,13.41 L138.46,13.45 L140.62,13.49 L142.78,13.53 L144.93,13.58 L147.09,13.62 L149.25,13.67 L151.40,13.72 L153.56,13.77 L155.72,13.82 L157.87,13.88 L160.03,13.94 L162.19,14.00 L164.34,14.06 L166.50,14.12 L168.66,14.19 L170.81,14.26 L172.97,14.33 L175.13,14.41 L177.28,14.48 L179.44,14.57 L181.60,14.65 L183.76,14.74 L185.91,14.83 L188.07,14.92 L190.23,15.02 L192.38,15.12 L194.54,15.23 L196.70,15.34 L198.85,15.45 L201.01,15.57 L203.17,15.69 L205.32,15.82 L207.48,15.95 L209.64,16.09 L211.80,16.23 L213.95,16.38 L216.11,16.54 L218.27,16.70 L220.42,16.86 L222.58,17.03 L224.74,17.21 L226.89,17.40 L229.05,17.59 L231.21,17.79 L233.36,18.00 L235.52,18.22 L237.68,18.44 L239.83,18.67 L241.99,18.91 L244.15,19.17 L246.31,19.43 L248.46,19.70 L250.62,19.98 L252.78,20.27 L254.93,20.57 L257.09,20.88 L259.25,21.21 L261.40,21.55 L263.56,21.90 L265.72,22.26 L267.87,22.64 L270.03,23.03 L272.19,23.43 L274.34,23.85 L276.50,24.29 L278.66,24.74 L280.82,25.21 L282.97,25.70 L285.13,26.20 L287.29,26.73 L289.44,27.27 L291.60,27.83 L293.76,28.41 L295.91,29.02 L298.07,29.65 L300.23,30.29 L302.38,30.97 L304.54,31.66 L306.70,32.38 L308.85,33.13 L311.01,33.91 L313.17,34.71 L315.33,35.54 L317.48,36.40 L319.64,37.29 L321.80,38.21 L323.95,39.16 L326.11,40.15 L328.27,41.17 L330.42,42.22 L332.58,43.31 L334.74,44.44 L336.89,45.61 L339.05,46.81 L341.21,48.06 L343.36,49.35 L345.52,50.68 L347.68,52.05 L349.84,53.47 L351.99,54.93 L354.15,56.44 L356.31,58.00 L358.46,59.60 L360.62,61.26 L362.78,62.95 L364.93,64.70 L367.09,66.48 L369.25,68.32 L371.40,70.20 L373.56,72.13 L375.72,74.10 L377.87,76.12 L380.03,78.19 L382.19,80.30 L384.35,82.46 L386.50,84.67 L388.66,86.92 L390.82,89.22 L392.97,91.57 L395.13,93.96 L397.29,96.40 L399.44,98.88 L401.60,101.41 L403.76,103.97 L405.91,106.58"/><path d="M56.50,15.01 L58.66,15.09 L60.81,15.17 L62.97,15.26 L65.13,15.35 L67.28,15.45 L69.44,15.55 L71.60,15.65 L73.75,15.75 L75.91,15.86 L78.07,15.97 L80.23,16.09 L82.38,16.21 L84.54,16.33 L86.70,16.46 L88.85,16.59 L91.01,16.73 L93.17,16.87 L95.32,17.02 L97.48,17.17 L99.64,17.33 L101.79,17.49 L103.95,17.66 L106.11,17.83 L108.27,18.01 L110.42,18.20 L112.58,18.39 L114.74,18.59 L116.89,18.79 L119.05,19.01 L121.21,19.23 L123.36,19.45 L125.52,19.69 L127.68,19.93 L129.83,20.19 L131.99,20.45 L134.15,20.72 L136.30,21.00 L138.46,21.29 L140.62,21.58 L142.78,21.89 L144.93,22.21 L147.09,22.55 L149.25,22.89 L151.40,23.24 L153.56,23.61 L155.72,23.99 L157.87,24.38 L160.03,24.79 L162.19,25.21 L164.34,25.64 L166.50,26.09 L168.66,26.55 L170.81,27.03 L172.97,27.53 L175.13,28.04 L177.28,28.57 L179.44,29.12 L181.60,29.69 L183.76,30.28 L185.91,30.88 L188.07,31.51 L190.23,32.16 L192.38,32.83 L194.54,33.52 L196.70,34.23 L198.85,34.97 L201.01,35.74 L203.17,36.52 L205.32,37.34 L207.48,38.18 L209.64,39.05 L211.80,39.95 L213.95,40.87 L216.11,41.83 L218.27,42.81 L220.42,43.83 L222.58,44.88 L224.74,45.97 L226.89,47.09 L229.05,48.24 L231.21,49.43 L233.36,50.65 L235.52,51.92 L237.68,53.22 L239.83,54.56 L241.99,55.94 L244.15,57.37 L246.31,58.83 L248.46,60.34 L250.62,61.90 L252.78,63.49 L254.93,65.14 L257.09,66.83 L259.25,68.56 L261.40,70.35 L263.56,72.18 L265.72,74.07 L267.87,76.00 L270.03,77.99 L272.19,80.02 L274.34,82.11 L276.50,84.25 L278.66,86.45 L280.82,88.70 L282.97,91.00 L285.13,93.35 L287.29,95.76 L289.44,98.22 L291.60,100.74 L293.76,103.31 L295.91,105.93 L298.07,108.60 L300.23,111.33 L302.38,114.11 L304.54,116.94 L306.70,119.82 L308.85,122.75 L311.01,125.72 L313.17,128.74 L315.33,131.81 L317.48,134.92 L319.64,138.06 L321.80,141.25 L323.95,144.47 L326.11,147.73 L328.27,151.01 L330.42,154.33 L332.58,157.66 L334.74,161.02 L336.89,164.40 L339.05,167.79 L341.21,171.19 L343.36,174.59 L345.52,178.00 L347.68,181.41 L349.84,184.80 L351.99,188.19 L354.15,191.56 L356.31,194.90 L358.46,198.22 L360.62,201.51 L362.78,204.76 L364.93,207.97 L367.09,211.14 L369.25,214.25 L371.40,217.30 L373.56,220.29 L375.72,223.22 L377.87,226.07 L380.03,228.86 L382.19,231.56 L384.35,234.17 L386.50,236.71 L388.66,239.15 L390.82,241.50 L392.97,243.75 L395.13,245.91 L397.29,247.97 L399.44,249.93 L401.60,251.78 L403.76,253.54 L405.91,255.19"/><path d="M56.50,21.72 L58.66,21.98 L60.81,22.24 L62.97,22.52 L65.13,22.80 L67.28,23.09 L69.44,23.39 L71.60,23.70 L73.75,24.02 L75.91,24.36 L78.07,24.70 L80.23,25.05 L82.38,25.41 L84.54,25.79 L86.70,26.18 L88.85,26.58 L91.01,26.99 L93.17,27.41 L95.32,27.85 L97.48,28.31 L99.64,28.77 L101.79,29.26 L103.95,29.75 L106.11,30.27 L108.27,30.80 L110.42,31.34 L112.58,31.91 L114.74,32.49 L116.89,33.09 L119.05,33.71 L121.21,34.35 L123.36,35.01 L125.52,35.69 L127.68,36.39 L129.83,37.11 L131.99,37.86 L134.15,38.63 L136.30,39.42 L138.46,40.24 L140.62,41.08 L142.78,41.95 L144.93,42.85 L147.09,43.77 L149.25,44.72 L151.40,45.71 L153.56,46.72 L155.72,47.76 L157.87,48.83 L160.03,49.93 L162.19,51.07 L164.34,52.24 L166.50,53.45 L168.66,54.69 L170.81,55.96 L172.97,57.28 L175.13,58.63 L177.28,60.02 L179.44,61.44 L181.60,62.91 L183.76,64.42 L185.91,65.97 L188.07,67.57 L190.23,69.20 L192.38,70.88 L194.54,72.61 L196.70,74.38 L198.85,76.19 L201.01,78.05 L203.17,79.96 L205.32,81.92 L207.48,83.92 L209.64,85.97 L211.80,88.07 L213.95,90.22 L216.11,92.42 L218.27,94.67 L220.42,96.97 L222.58,99.32 L224.74,101.71 L226.89,104.16 L229.05,106.65 L231.21,109.20 L233.36,111.79 L235.52,114.43 L237.68,117.11 L239.83,119.85 L241.99,122.62 L244.15,125.44 L246.31,128.31 L248.46,131.21 L250.62,134.16 L252.78,137.14 L254.93,140.16 L257.09,143.21 L259.25,146.30 L261.40,149.41 L263.56,152.55 L265.72,155.72 L267.87,158.91 L270.03,162.11 L272.19,165.34 L274.34,168.57 L276.50,171.81 L278.66,175.06 L280.82,178.31 L282.97,181.55 L285.13,184.79 L287.29,188.02 L289.44,191.23 L291.60,194.43 L293.76,197.60 L295.91,200.74 L298.07,203.85 L300.23,206.92 L302.38,209.95 L304.54,212.94 L306.70,215.87 L308.85,218.75 L311.01,221.57 L313.17,224.33 L315.33,227.02 L317.48,229.65 L319.64,232.20 L321.80,234.67 L323.95,237.06 L326.11,239.37 L328.27,241.60 L330.42,243.74 L332.58,245.79 L334.74,247.75 L336.89,249.62 L339.05,251.40 L341.21,253.08 L343.36,254.68 L345.52,256.18 L347.68,257.59 L349.84,258.92 L351.99,260.16 L354.15,261.31 L356.31,262.38 L358.46,263.37 L360.62,264.28 L362.78,265.11 L364.93,265.87 L367.09,266.57 L369.25,267.20 L371.40,267.77 L373.56,268.28 L375.72,268.74 L377.87,269.15 L380.03,269.51 L382.19,269.83 L384.35,270.11 L386.50,270.36 L388.66,270.57 L390.82,270.75 L392.97,270.91 L395.13,271.05 L397.29,271.16 L399.44,271.26 L401.60,271.34 L403.76,271.41 L405.91,271.47"/><path d="M56.50,31.89 L58.66,32.47 L60.81,33.07 L62.97,33.68 L65.13,34.31 L67.28,34.97 L69.44,35.64 L71.60,36.33 L73.75,37.04 L75.91,37.77 L78.07,38.52 L80.23,39.29 L82.38,40.09 L84.54,40.91 L86.70,41.75 L88.85,42.62 L91.01,43.51 L93.17,44.43 L95.32,45.37 L97.48,46.34 L99.64,47.33 L101.79,48.36 L103.95,49.41 L106.11,50.49 L108.27,51.61 L110.42,52.75 L112.58,53.92 L114.74,55.13 L116.89,56.36 L119.05,57.63 L121.21,58.94 L123.36,60.28 L125.52,61.65 L127.68,63.06 L129.83,64.50 L131.99,65.99 L134.15,67.51 L136.30,69.06 L138.46,70.66 L140.62,72.30 L142.78,73.97 L144.93,75.69 L147.09,77.44 L149.25,79.24 L151.40,81.08 L153.56,82.96 L155.72,84.89 L157.87,86.85 L160.03,88.86 L162.19,90.92 L164.34,93.01 L166.50,95.15 L168.66,97.34 L170.81,99.57 L172.97,101.84 L175.13,104.15 L177.28,106.51 L179.44,108.91 L181.60,111.35 L183.76,113.84 L185.91,116.37 L188.07,118.94 L190.23,121.55 L192.38,124.19 L194.54,126.88 L196.70,129.60 L198.85,132.37 L201.01,135.16 L203.17,137.99 L205.32,140.85 L207.48,143.74 L209.64,146.66 L211.80,149.61 L213.95,152.58 L216.11,155.57 L218.27,158.59 L220.42,161.62 L222.58,164.67 L224.74,167.72 L226.89,170.79 L229.05,173.87 L231.21,176.95 L233.36,180.02 L235.52,183.10 L237.68,186.17 L239.83,189.23 L241.99,192.27 L244.15,195.30 L246.31,198.30 L248.46,201.29 L250.62,204.24 L252.78,207.16 L254.93,210.04 L257.09,212.89 L259.25,215.69 L261.40,218.44 L263.56,221.15 L265.72,223.79 L267.87,226.38 L270.03,228.91 L272.19,231.37 L274.34,233.77 L276.50,236.10 L278.66,238.35 L280.82,240.53 L282.97,242.63 L285.13,244.65 L287.29,246.59 L289.44,248.45 L291.60,250.22 L293.76,251.91 L295.91,253.52 L298.07,255.04 L300.23,256.48 L302.38,257.84 L304.54,259.11 L306.70,260.31 L308.85,261.42 L311.01,262.46 L313.17,263.42 L315.33,264.30 L317.48,265.12 L319.64,265.87 L321.80,266.55 L323.95,267.18 L326.11,267.74 L328.27,268.25 L330.42,268.71 L332.58,269.11 L334.74,269.48 L336.89,269.80 L339.05,270.08 L341.21,270.33 L343.36,270.55 L345.52,270.73 L347.68,270.90 L349.84,271.04 L351.99,271.15 L354.15,271.25 L356.31,271.34 L358.46,271.41 L360.62,271.47 L362.78,271.51 L364.93,271.55 L367.09,271.59 L369.25,271.61 L371.40,271.63 L373.56,271.65 L375.72,271.66 L377.87,271.67 L380.03,271.68 L382.19,271.68 L384.35,271.69 L386.50,271.69 L388.66,271.69 L390.82,271.70 L392.97,271.70 L395.13,271.70 L397.29,271.70 L399.44,271.70 L401.60,271.70 L403.76,271.70 L405.91,271.70"/><path d="M56.50,47.37 L58.66,48.31 L60.81,49.28 L62.97,50.27 L65.13,51.29 L67.28,52.34 L69.44,53.42 L71.60,54.53 L73.75,55.66 L75.91,56.83 L78.07,58.03 L80.23,59.26 L82.38,60.52 L84.54,61.82 L86.70,63.15 L88.85,64.51 L91.01,65.91 L93.17,67.35 L95.32,68.82 L97.48,70.33 L99.64,71.87 L101.79,73.46 L103.95,75.08 L106.11,76.74 L108.27,78.44 L110.42,80.18 L112.58,81.96 L114.74,83.78 L116.89,85.65 L119.05,87.55 L121.21,89.50 L123.36,91.49 L125.52,93.52 L127.68,95.59 L129.83,97.71 L131.99,99.87 L134.15,102.07 L136.30,104.31 L138.46,106.60 L140.62,108.93 L142.78,111.30 L144.93,113.71 L147.09,116.17 L149.25,118.66 L151.40,121.19 L153.56,123.77 L155.72,126.38 L157.87,129.02 L160.03,131.71 L162.19,134.43 L164.34,137.18 L166.50,139.96 L168.66,142.78 L170.81,145.62 L172.97,148.49 L175.13,151.39 L177.28,154.30 L179.44,157.24 L181.60,160.20 L183.76,163.17 L185.91,166.16 L188.07,169.16 L190.23,172.17 L192.38,175.18 L194.54,178.19 L196.70,181.20 L198.85,184.21 L201.01,187.21 L203.17,190.20 L205.32,193.17 L207.48,196.13 L209.64,199.06 L211.80,201.97 L213.95,204.85 L216.11,207.70 L218.27,210.51 L220.42,213.28 L222.58,216.01 L224.74,218.70 L226.89,221.33 L229.05,223.91 L231.21,226.43 L233.36,228.89 L235.52,231.29 L237.68,233.63 L239.83,235.90 L241.99,238.09 L244.15,240.22 L246.31,242.27 L248.46,244.25 L250.62,246.14 L252.78,247.96 L254.93,249.70 L257.09,251.36 L259.25,252.95 L261.40,254.45 L263.56,255.87 L265.72,257.21 L267.87,258.48 L270.03,259.67 L272.19,260.78 L274.34,261.82 L276.50,262.79 L278.66,263.68 L280.82,264.51 L282.97,265.28 L285.13,265.98 L287.29,266.63 L289.44,267.21 L291.60,267.75 L293.76,268.23 L295.91,268.67 L298.07,269.06 L300.23,269.41 L302.38,269.72 L304.54,270.00 L306.70,270.24 L308.85,270.46 L311.01,270.65 L313.17,270.81 L315.33,270.95 L317.48,271.07 L319.64,271.18 L321.80,271.27 L323.95,271.35 L326.11,271.41 L328.27,271.46 L330.42,271.51 L332.58,271.55 L334.74,271.58 L336.89,271.60 L339.05,271.62 L341.21,271.64 L343.36,271.65 L345.52,271.66 L347.68,271.67 L349.84,271.68 L351.99,271.68 L354.15,271.69 L356.31,271.69 L358.46,271.69 L360.62,271.69 L362.78,271.70 L364.93,271.70 L367.09,271.70 L369.25,271.70 L371.40,271.70 L373.56,271.70 L375.72,271.70 L377.87,271.70 L380.03,271.70 L382.19,271.70 L384.35,271.70 L386.50,271.70 L388.66,271.70 L390.82,271.70 L392.97,271.70 L395.13,271.70 L397.29,271.70 L399.44,271.70 L401.60,271.70 L403.76,271.70 L405.91,271.70"/></g>
</g>
<g fill="none" stroke="#000" stroke-width="0.85">
<ellipse cx="329.9" cy="40.3" rx="2.2" ry="6.7"/><path d="M330.4,46.6 L324.8,55.9"/>
<ellipse cx="285.8" cy="88.7" rx="2.3" ry="8.5"/><path d="M285.85,97.15 L283.1,107.9"/>
<ellipse cx="249.6" cy="124.4" rx="2.4" ry="11"/><path d="M250.1,135.2 L244.5,146.2"/>
<ellipse cx="221.3" cy="153.2" rx="2.7" ry="12"/><path d="M221.5,165.2 L216.7,174.0"/>
<ellipse cx="199.7" cy="174.1" rx="2.8" ry="13.8"/><path d="M200.6,187.6 L192.1,198.3"/>
</g>
<rect x="67.2" y="211.5" width="104.7" height="51.9" fill="#fff" stroke="#444" stroke-width="0.6"/>
<g fill="none" stroke-width="1.5">
<path d="M71.2,222 H92.6" stroke="#ff0000" stroke-dasharray="3.62 2.42"/>
<path d="M71.2,238.0 H91.8" stroke="#000" stroke-dasharray="6.4 2.2 1.5 3.2" stroke-width="1.6"/>
<path d="M71.2,253.8 H92" stroke="#0000ff"/>
</g>
</svg>
<svg id="t" width="416" height="315" viewBox="0 0 416 315">
<g stroke="#222" stroke-width="0.6" fill="none"><line x1="46.80" y1="280.9" x2="54.10" y2="280.9"/><line x1="89.94" y1="280.9" x2="97.24" y2="280.9"/><line x1="133.08" y1="280.9" x2="140.38" y2="280.9"/><line x1="179.21" y1="280.9" x2="186.51" y2="280.9"/><line x1="319.10" y1="55.9" x2="324.10" y2="55.9"/><line x1="277.20" y1="108.15" x2="282.20" y2="108.15"/><line x1="238.55" y1="146.2" x2="244.25" y2="146.2"/><line x1="184.00" y1="198.15" x2="189.40" y2="198.15"/><line x1="147" y1="198.1" x2="165.1" y2="198.1"/><line x1="147.6" y1="189.8" x2="147.6" y2="196.8"/><line x1="163.3" y1="189.8" x2="163.3" y2="196.8"/><line x1="148.5" y1="199.8" x2="148.5" y2="207.2"/><line x1="162.7" y1="199.8" x2="162.7" y2="207.2"/><line x1="170.9" y1="197.4" x2="178.9" y2="197.4"/><line x1="170.9" y1="200" x2="178.9" y2="200"/></g>
<text transform="translate(55.20,284.30) scale(1.0,1)" text-anchor="start" font-size="12" >20</text><text transform="translate(98.34,284.30) scale(1.0,1)" text-anchor="start" font-size="12" >15</text><text transform="translate(141.48,284.30) scale(1.0,1)" text-anchor="start" font-size="12" >10</text><text transform="translate(187.61,284.30) scale(1.0,1)" text-anchor="start" font-size="12" >5</text><text transform="translate(229.05,284.30) scale(1.0,1)" text-anchor="middle" font-size="12" >0</text><text transform="translate(272.19,284.30) scale(1.0,1)" text-anchor="middle" font-size="12" >5</text><text transform="translate(315.33,284.30) scale(1.0,1)" text-anchor="middle" font-size="12" >10</text><text transform="translate(358.46,284.30) scale(1.0,1)" text-anchor="middle" font-size="12" >15</text><text transform="translate(401.60,284.30) scale(1.0,1)" text-anchor="middle" font-size="12" >20</text><text transform="translate(52.00,275.70) scale(1.0,1)" text-anchor="end" font-size="12" >0</text><text transform="translate(52.00,223.84) scale(1.0,1)" text-anchor="end" font-size="12" >0.2</text><text transform="translate(52.00,171.98) scale(1.0,1)" text-anchor="end" font-size="12" >0.4</text><text transform="translate(52.00,120.12) scale(1.0,1)" text-anchor="end" font-size="12" >0.6</text><text transform="translate(52.00,68.26) scale(1.0,1)" text-anchor="end" font-size="12" >0.8</text><text transform="translate(52.00,16.40) scale(1.0,1)" text-anchor="end" font-size="12" >1</text><text transform="translate(94.60,226.10) scale(1.07,1)" text-anchor="start" font-size="12" >sim.</text><text transform="translate(123.30,226.10) scale(1.17,1)" text-anchor="start" font-size="12" >(PPP)</text><text transform="translate(94.60,242.30) scale(1.07,1)" text-anchor="start" font-size="12" >sim.</text><text transform="translate(123.30,242.30) scale(1.14,1)" text-anchor="start" font-size="12" >(VPLP)</text><text transform="translate(94.70,256.30) scale(1.11,1)" text-anchor="start" font-size="12" >analysis</text><text transform="translate(211.50,304.00) scale(1.0,1)" text-anchor="start" font-size="12" font-style="italic">&#952;</text><text transform="translate(222.00,304.00) scale(1.06,1)" text-anchor="start" font-size="12" >(dB)</text><text transform="translate(16.8,195.4) rotate(-90) scale(1.09,1)" font-size="12">coverage probability</text><text transform="translate(210.30,178.90) scale(1.0,1)" text-anchor="start" font-size="12" >1</text><text transform="translate(321.60,54.60) scale(1.0,1)" text-anchor="middle" font-size="8.6" >1</text><text transform="translate(321.60,63.40) scale(1.0,1)" text-anchor="middle" font-size="8.6" >4</text><text transform="translate(279.70,106.85) scale(1.0,1)" text-anchor="middle" font-size="8.6" >1</text><text transform="translate(279.70,115.65) scale(1.0,1)" text-anchor="middle" font-size="8.6" >2</text><text transform="translate(241.40,144.90) scale(1.0,1)" text-anchor="middle" font-size="8.6" >3</text><text transform="translate(241.40,153.70) scale(1.0,1)" text-anchor="middle" font-size="8.6" >4</text><text transform="translate(186.70,196.85) scale(1.0,1)" text-anchor="middle" font-size="8.6" >5</text><text transform="translate(186.70,205.65) scale(1.0,1)" text-anchor="middle" font-size="8.6" >4</text><text transform="translate(149.60,196.10) scale(1.0,1)" text-anchor="start" font-size="8.8" font-style="italic">x</text><text transform="translate(155.40,197.10) scale(1.25,1)" text-anchor="start" font-size="6.5" font-style="italic">R</text><text transform="translate(150.60,206.30) scale(1.0,1)" text-anchor="start" font-size="8.8" font-style="italic">x</text><text transform="translate(156.30,204.20) scale(1.0,1)" text-anchor="start" font-size="7" >&#8727;</text>
</svg>
</body></html>
